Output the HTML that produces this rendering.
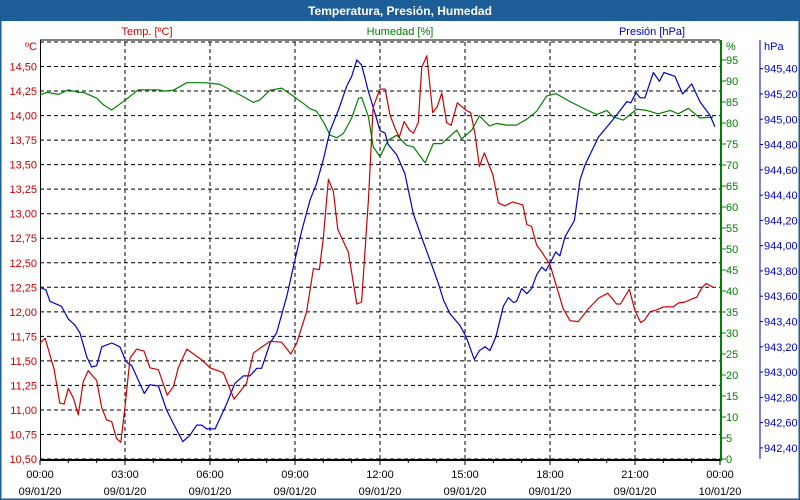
<!DOCTYPE html>
<html><head><meta charset="utf-8"><style>
html,body{margin:0;padding:0;background:#fff;}
svg{display:block;font-family:"Liberation Sans",sans-serif;}
</style></head><body>
<svg id="chart" width="800" height="500" xmlns="http://www.w3.org/2000/svg">
<rect x="0" y="0" width="800" height="500" fill="#fff"/>
<rect x="0" y="0" width="800" height="21" fill="#1d5e99"/>
<rect x="0.5" y="0.5" width="799" height="499" fill="none" stroke="#1d5e99" stroke-width="2"/>
<text x="400" y="15" text-anchor="middle" font-size="12" font-weight="bold" fill="#fff">Temperatura, Presión, Humedad</text>
<text x="147" y="35" text-anchor="middle" font-size="11" fill="#d00000">Temp. [ºC]</text>
<text x="400" y="35" text-anchor="middle" font-size="11" fill="#008000">Humedad [%]</text>
<text x="652" y="35" text-anchor="middle" font-size="11" fill="#0000c8">Presión [hPa]</text>
<text x="37" y="50" text-anchor="end" font-size="11" fill="#d00000">ºC</text>
<text x="726" y="50" font-size="11" fill="#008000">%</text>
<text x="764" y="50" font-size="11" fill="#0000c8">hPa</text>
<g id="grid"></g>
<g id="axes"></g>
<g id="series"></g>
</svg>
<script>
const timeHours=[0,0.18,0.5,0.7,0.85,1,1.18,1.35,1.53,1.7,2,2.18,2.35,2.53,2.7,2.85,3,3.18,3.41,3.67,3.88,4.18,4.49,4.71,4.88,5.18,5.71,6,6.47,6.85,7.29,7.53,8.12,8.53,8.85,9.06,9.41,9.65,9.86,10,10.18,10.35,10.51,10.88,11.18,11.35,11.59,11.76,12];
const tempA=[11.68,11.73,11.41,11.07,11.06,11.22,11.12,10.95,11.29,11.40,11.30,11.02,10.90,10.88,10.71,10.67,11.03,11.53,11.62,11.60,11.43,11.41,11.15,11.24,11.43,11.62,11.51,11.43,11.38,11.11,11.27,11.58,11.70,11.69,11.57,11.68,12.00,12.44,12.43,12.75,13.35,13.23,12.84,12.61,12.08,12.10,13.14,14.09,14.27];
const timeHoursB=[12,12.18,12.35,12.53,12.68,12.85,13.04,13.18,13.35,13.47,13.65,13.86,14.02,14.18,14.35,14.51,14.73,15.06,15.2,15.35,15.51,15.68,15.98,16.18,16.41,16.68,17.04,17.18,17.35,17.53,17.71,18,18.24,18.47,18.71,19,19.35,19.71,20.04,20.35,20.49,20.8,21,21.2,21.35,21.53,21.76,22,22.35,22.53,22.76,23,23.18,23.35,23.51,23.76];
const tempB=[14.29,14.27,14.01,13.87,13.78,13.94,13.85,13.82,13.93,14.49,14.61,14.03,14.09,14.23,13.93,13.90,14.13,14.05,14.03,13.82,13.48,13.62,13.40,13.11,13.08,13.12,13.09,12.89,12.87,12.68,12.61,12.48,12.25,12.03,11.91,11.90,12.03,12.14,12.19,12.08,12.08,12.23,12.01,11.89,11.92,12.00,12.02,12.05,12.05,12.09,12.10,12.13,12.15,12.24,12.29,12.25];
const humTime=[0,0.24,0.65,1,1.35,1.53,2,2.24,2.53,3,3.47,4.18,4.41,4.71,5.18,5.76,6,6.35,7.06,7.53,7.76,8.12,8.53,8.94,9.29,9.53,9.76,10,10.24,10.47,10.71,11,11.24,11.35,11.59,11.76,12,12.29,12.59,12.94,13.18,13.59,13.88,14.18,14.71,14.88,15.24,15.51,15.86,16.12,16.47,16.82,17.18,17.53,17.88,18.21,18.71,19.06,19.65,20,20.24,20.59,21.06,21.41,21.82,22.24,22.53,22.88,23.29,23.76];
const humVals=[86.7,87.3,86.8,87.9,87.3,87.3,85.9,84.3,83.1,85.4,87.9,87.9,87.6,87.8,89.6,89.6,89.5,89.2,86.7,84.9,85.5,87.8,88.3,86.4,84.7,83.4,82.8,80.3,77.1,76.5,77.5,81.2,85.9,86.1,81.5,74.3,72.0,75.9,77.1,74.7,74.3,70.5,75.1,75.1,78.3,76.2,78.3,81.7,79.3,79.9,79.5,79.5,80.9,82.8,86.4,87.0,85.1,83.9,82.0,83.0,81.4,80.7,83.3,83.0,82.2,83.0,82.2,83.5,81.2,81.4];
const presTime=[0,0.21,0.35,0.76,1,1.24,1.41,1.65,1.82,2,2.18,2.53,2.82,3.04,3.24,3.68,3.88,4.18,4.47,4.71,5.04,5.29,5.53,5.71,5.88,6.18,6.59,6.88,7.18,7.41,7.65,7.82,8.12,8.35,8.71,9,9.24,9.53,9.76,10,10.24,10.53,10.82,11,11.18,11.35,11.59,11.82,12,12.18,12.29,12.59,12.88,13.18,13.53,13.82,14.06,14.24,14.47,14.82,15.04,15.33,15.51,15.71,15.88,16.09,16.35,16.53,16.71,16.82,17,17.18,17.35,17.53,17.71,17.85,18.02,18.2,18.35,18.53,18.86,19.06,19.24,19.71,20.12,20.41,20.71,20.85,21.04,21.18,21.35,21.65,21.86,22.02,22.41,22.68,23,23.29,23.65,23.82];
const presVals=[943.67,943.65,943.56,943.52,943.42,943.37,943.31,943.12,943.04,943.05,943.20,943.23,943.20,943.08,943.05,942.83,942.90,942.89,942.70,942.59,942.45,942.50,942.58,942.58,942.55,942.55,942.75,942.91,942.97,942.97,943.03,943.03,943.23,943.31,943.60,943.89,944.12,944.36,944.49,944.68,944.91,945.07,945.26,945.34,945.47,945.43,945.22,945.05,944.91,944.89,944.80,944.72,944.57,944.25,944.03,943.85,943.70,943.57,943.46,943.37,943.28,943.10,943.17,943.20,943.17,943.28,943.52,943.59,943.55,943.56,943.66,943.62,943.66,943.77,943.83,943.80,943.87,943.95,943.92,944.07,944.20,944.52,944.64,944.86,944.97,945.05,945.14,945.13,945.21,945.17,945.17,945.37,945.30,945.37,945.34,945.20,945.28,945.14,945.03,944.94];
const tempTicks=["10,50","10,75","11,00","11,25","11,50","11,75","12,00","12,25","12,50","12,75","13,00","13,25","13,50","13,75","14,00","14,25","14,50"];
const humTicks=["0","5","10","15","20","25","30","35","40","45","50","55","60","65","70","75","80","85","90","95"];
const presTicks=["942,40","942,60","942,80","943,00","943,20","943,40","943,60","943,80","944,00","944,20","944,40","944,60","944,80","945,00","945,20","945,40"];
const timeTicks=["00:00","03:00","06:00","09:00","12:00","15:00","18:00","21:00","00:00"];
const dateTicks=["09/01/20","09/01/20","09/01/20","09/01/20","09/01/20","09/01/20","09/01/20","09/01/20","10/01/20"];

const NS="http://www.w3.org/2000/svg";
const X0=40,X1=720,Y0=459,YT=42;
const xS=h=>X0+h*(X1-X0)/24;
const yT=t=>Y0-(t-10.5)*(Y0-YT)/4.25;
const yH=v=>Y0-v*4.2;
const yP=p=>68.7+(945.4-p)*126.4;
function mk(tag,attrs,parent){const e=document.createElementNS(NS,tag);for(const k in attrs)e.setAttribute(k,attrs[k]);parent.appendChild(e);return e;}
const grid=document.getElementById('grid'),axes=document.getElementById('axes'),series=document.getElementById('series');
for(let i=0;i<=17;i++){const y=yT(10.5+i*0.25);
 const l=mk('line',{x1:X0,x2:X1,y1:y,y2:y,stroke:'#000','stroke-dasharray':'4,3','stroke-width':1},grid);
 
 }
for(let i=1;i<8;i++){const x=xS(i*3);
 const l=mk('line',{x1:x,x2:x,y1:YT,y2:Y0,stroke:'#000','stroke-dasharray':'4,3','stroke-width':1},grid);
 
 }
const fr=mk('path',{d:`M${X0+.5},${Y0} V${YT-2} H${X1}`,stroke:'#000',fill:'none'},axes);


const xa=mk('line',{x1:X0,x2:X1,y1:Y0+1,y2:Y0+1,stroke:'#000','stroke-width':2},axes);


for(let h=0;h<=24;h++){const x=xS(h);
 const t=mk('line',{x1:x,x2:x,y1:Y0+1,y2:Y0+(h%3?4:6),stroke:'#000'},axes);
 
 }
timeTicks.forEach((s,i)=>{const x=xS(i*3);
 const a=mk('text',{x:x,y:478,'text-anchor':'middle','font-size':11,fill:'#000'},axes);a.textContent=s;
 
 
 const b=mk('text',{x:x,y:495,'text-anchor':'middle','font-size':11,fill:'#000'},axes);b.textContent=dateTicks[i];
 
 });
tempTicks.forEach(s=>{const v=parseFloat(s.replace(',','.'));
 const a=mk('text',{x:37,y:yT(v)+4,'text-anchor':'end','font-size':11,fill:'#d00000'},axes);a.textContent=s;
 
 });
const ga=mk('line',{x1:X1+1,x2:X1+1,y1:YT-2,y2:Y0+2,stroke:'#008000','stroke-width':2},axes);


humTicks.forEach(s=>{const v=+s;
 const t=mk('line',{x1:X1+1,x2:X1+6,y1:yH(v),y2:yH(v),stroke:'#008000'},axes);
 
 
 const a=mk('text',{x:726,y:yH(v)+4,'font-size':11,fill:'#008000'},axes);a.textContent=s;
 
 });
const pa=mk('line',{x1:760,x2:760,y1:YT-2,y2:Y0,stroke:'#0000c8','stroke-width':1},axes);


presTicks.forEach(s=>{const v=parseFloat(s.replace(',','.'));
 const t=mk('line',{x1:760,x2:763,y1:yP(v),y2:yP(v),stroke:'#0000c8'},axes);
 
 
 const a=mk('text',{x:764,y:yP(v)+4,'font-size':11,fill:'#0000c8'},axes);a.textContent=s;
 
 });
function line(ts,vs,yf,color,name){
 const d=ts.map((t,i)=>(i?'L':'M')+xS(t).toFixed(1)+','+yf(vs[i]).toFixed(1)).join(' ');
 const p=mk('path',{d:d,fill:'none',stroke:color,'stroke-width':1.2,'stroke-linejoin':'round'},series);
 
 }
line(humTime,humVals,yH,'#008000','humidity-line');
line(presTime,presVals,yP,'#0000d0','pressure-line');
line(timeHours.concat(timeHoursB.slice(1)),tempA.concat(tempB.slice(1)),yT,'#d00000','temperature-line');
</script>
</body></html>
